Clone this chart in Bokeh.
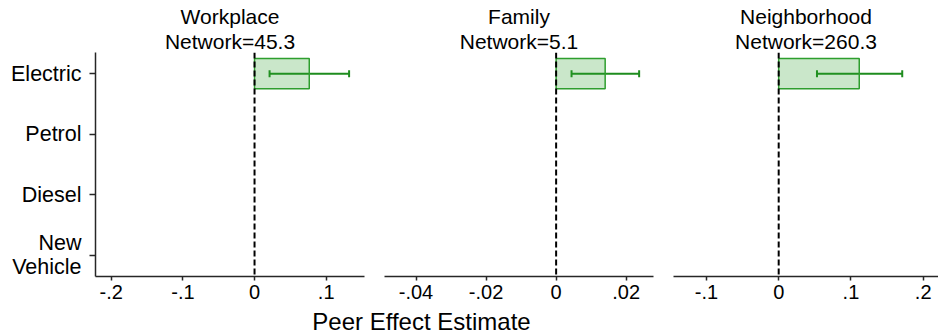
from bokeh.plotting import figure
from bokeh.models import Range1d, Span, Whisker, ColumnDataSource, FixedTicker, TeeHead, Title
from bokeh.layouts import row, column
from bokeh.core.properties import value
from bokeh.embed import file_html
from bokeh.resources import INLINE

# ---- data ----
categories = ["Electric", "Petrol", "Diesel", "New\nVehicle"]
panel_names = ["Workplace", "Family", "Neighborhood"]
network_sizes = ["45.3", "5.1", "260.3"]
bar_category = "Electric"
estimate = [0.0764, 0.0140, 0.1115]
ci_low = [0.021, 0.0044, 0.053]
ci_high = [0.132, 0.0237, 0.171]
x_ticks = [[-0.2, -0.1, 0, 0.1], [-0.04, -0.02, 0, 0.02], [-0.1, 0, 0.1, 0.2]]
x_tick_labels = [["-.2", "-.1", "0", ".1"], ["-.04", "-.02", "0", ".02"], ["-.1", "0", ".1", ".2"]]
x_label = "Peer Effect Estimate"

# ---- layout config ----
x_limits = [(-0.222, 0.1535), (-0.049, 0.0278), (-0.1456, 0.2212)]
widths = [370, 290, 278]
border_left = [95, 14, 13]
border_right = [6, 7, 0]
label_center_px = 421
FONT = "Liberation Sans"
AX = "#262626"

ypos = {c: i + 1 for i, c in enumerate(categories)}

figs = []
for k in range(3):
    p = figure(width=widths[k], height=308, output_backend="svg", toolbar_location=None,
               x_range=Range1d(*x_limits[k]), y_range=Range1d(len(categories) + 0.35, 0.65),
               min_border_left=border_left[k], min_border_right=border_right[k],
               min_border_top=52, min_border_bottom=32)
    p.title.visible = False
    for txt in ["Network=" + network_sizes[k], panel_names[k]]:
        p.add_layout(Title(text=txt, align="center", text_font=FONT, text_font_size="21px",
                           text_font_style="normal", text_color="black",
                           standoff=0, offset=0, text_line_height=1.0), "above")
    p.outline_line_color = None
    p.grid.visible = False
    p.background_fill_color = "white"

    # x axis
    xa = p.xaxis[0]
    xa.ticker = FixedTicker(ticks=x_ticks[k])
    xa.major_label_overrides = {t: l for t, l in zip(x_ticks[k], x_tick_labels[k])}
    xa.major_label_text_font = FONT
    xa.major_label_text_font_size = "20px"
    xa.major_label_text_color = "black"
    xa.axis_line_color = AX
    xa.axis_line_width = 1.5
    xa.major_tick_line_color = AX
    xa.major_tick_line_width = 1.5
    xa.major_tick_out = 4
    xa.major_tick_in = 0
    xa.minor_tick_line_color = None
    xa.major_label_standoff = 4

    # y axis
    ya = p.yaxis[0]
    if k == 0:
        ya.ticker = FixedTicker(ticks=[ypos[c] for c in categories])
        ya.major_label_overrides = {ypos[c]: c for c in categories}
        ya.major_label_text_font = FONT
        ya.major_label_text_font_size = "21.5px"
        ya.major_label_text_color = "black"
        ya.major_label_text_line_height = 1.0
        ya.axis_line_color = AX
        ya.axis_line_width = 1.5
        ya.major_tick_line_color = AX
        ya.major_tick_line_width = 1.5
        ya.major_tick_out = 6
        ya.major_tick_in = 0
        ya.minor_tick_line_color = None
        ya.major_label_standoff = 8
    else:
        ya.visible = False

    src = ColumnDataSource(dict(y=[ypos[bar_category]], est=[estimate[k]],
                                lo=[ci_low[k]], hi=[ci_high[k]]))
    p.hbar(y="y", left=0, right="est", height=0.5, source=src,
           fill_color="#2ca02c", fill_alpha=0.25, line_color="#2e9e2e", line_width=1.5)
    p.add_layout(Span(location=0, dimension="height", line_color="black",
                      line_width=2, line_dash="6 3"))
    w = Whisker(base="y", lower="lo", upper="hi", dimension="width", source=src,
                line_color="#1e8c1e", line_width=2,
                lower_head=TeeHead(size=7, line_color="#1e8c1e", line_width=2),
                upper_head=TeeHead(size=7, line_color="#1e8c1e", line_width=2))
    p.add_layout(w)
    figs.append(p)

# bottom strip with the shared x-axis title
total_w = sum(widths)
pb = figure(width=total_w, height=25, output_backend="svg", toolbar_location=None,
            x_range=Range1d(0, total_w), y_range=Range1d(0, 1),
            min_border=0, outline_line_color=None)
pb.axis.visible = False
pb.grid.visible = False
pb.text(x=[label_center_px], y=[0.5], text=[x_label], text_align="center", text_baseline="middle",
        text_font=value(FONT), text_font_size="24px", text_color="black")

layout = column(row(*figs), pb)
open("out.html", "w").write(file_html(layout, INLINE))
